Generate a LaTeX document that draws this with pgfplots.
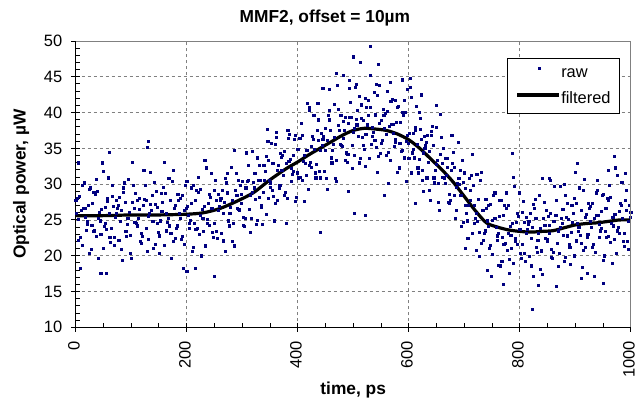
\documentclass[border=0pt]{standalone}
\usepackage{fontspec}
\setmainfont{Liberation Sans}
\usepackage{pgfplots}
\usepackage{pgfplotstable}
\pgfplotsset{compat=1.18}
\definecolor{rawblue}{RGB}{0,0,128}
\definecolor{gridgray}{RGB}{128,128,128}
\newcommand\chartfont{\fontsize{16.5}{19}\selectfont}
\newcommand\labelfont{\fontsize{17.4}{20}\selectfont\bfseries}

\pgfplotstableread{
x a b c e
0 27.7 25.9 28.0 25.1
5 22.2 28.3 22.6 18.2
10 26.3 21.5 29.8 26.6
15 30.2 26.7 25.4 23.6
20 24.4 24.8 27.1 29.3
25 20.3 29.5 20.9 24.3
30 27.4 23.4 28.9 23.5
35 28.6 30.7 22.7 29.0
40 25.2 19.6 26.1 24.9
45 23.0 26.5 33.0 21.0
50 31.8 24.1 24.6 26.8
55 23.7 28.0 27.6 30.9
60 25.9 22.6 21.9 23.8
65 28.3 29.8 26.9 22.6
70 21.5 25.4 27.7 26.0
75 26.7 27.1 22.2 28.2
80 24.8 20.9 26.3 19.4
85 29.5 28.9 30.2 27.5
90 23.4 22.7 24.4 25.3
95 30.7 26.1 20.3 22.9
100 19.7 33.1 27.5 29.8
105 26.6 24.7 28.7 24.6
110 24.2 27.7 25.3 26.5
115 28.1 22.0 23.1 21.8
120 22.7 27.0 31.9 27.9
125 29.9 27.8 23.8 20.6
130 25.5 22.3 26.0 31.7
135 27.2 26.4 28.4 24.8
140 21.0 30.3 21.6 27.2
145 29.0 24.5 26.8 23.3
150 22.8 20.4 24.9 28.7
155 26.2 27.5 29.6 21.5
160 33.1 28.7 23.5 25.9
165 24.7 25.3 30.8 24.2
170 27.7 23.1 19.7 30.4
175 22.0 31.9 26.6 22.4
180 27.0 23.8 24.2 28.6
185 27.8 26.0 28.1 25.2
190 22.3 28.4 22.7 18.3
195 26.4 21.6 29.9 26.7
200 30.4 26.9 25.6 23.8
205 24.6 25.0 27.3 29.5
210 20.6 29.8 21.2 24.6
215 27.7 23.7 29.2 23.8
220 28.9 31.0 23.0 29.3
225 25.6 20.0 26.5 25.3
230 23.4 26.9 33.4 21.4
235 32.3 24.6 25.1 27.3
240 24.3 28.6 28.2 31.5
245 26.6 23.3 22.6 24.5
250 29.1 30.6 27.7 23.4
255 22.4 26.3 28.6 26.9
260 27.7 28.1 23.2 29.2
265 26.0 22.1 27.5 20.6
270 30.8 30.2 31.5 28.8
275 24.9 24.2 25.9 26.8
280 32.4 27.8 22.0 24.6
285 21.4 34.8 29.2 31.5
290 28.5 26.6 30.6 26.5
295 26.3 29.8 27.4 28.6
300 30.4 24.3 25.4 24.1
305 25.2 29.5 34.4 30.4
310 32.6 30.5 26.5 23.3
315 28.4 25.2 28.9 34.6
320 30.3 29.5 31.5 27.9
325 24.4 33.7 25.0 30.6
330 32.7 28.2 30.5 27.0
335 26.8 24.4 28.9 32.7
340 30.5 31.8 33.9 25.8
345 37.7 33.3 28.1 30.5
350 29.6 30.2 35.7 29.1
355 32.9 28.3 24.9 35.6
360 27.4 37.3 32.0 27.8
365 32.7 29.5 29.9 34.3
370 33.8 32.0 34.1 31.2
375 28.5 34.6 28.9 24.5
380 32.9 28.1 36.4 33.2
385 37.0 33.5 32.2 30.4
390 31.4 31.8 34.1 36.3
395 27.6 36.8 28.2 31.6
400 34.9 30.9 36.4 31.0
405 36.4 38.5 30.5 36.8
410 33.2 27.6 34.1 32.9
415 31.3 34.8 41.3 29.3
420 40.3 32.6 33.1 35.3
425 32.4 36.7 36.3 39.6
430 34.9 31.6 30.9 32.8
435 37.5 39.0 36.1 31.8
440 30.9 34.8 37.1 35.4
445 36.3 36.7 31.8 37.8
450 34.7 30.8 36.2 29.3
455 39.6 39.0 40.3 37.6
460 33.7 33.0 34.7 35.6
465 41.2 36.6 30.8 33.4
470 30.4 43.8 38.2 40.5
475 37.5 35.6 39.6 35.5
480 35.3 38.8 36.4 37.6
485 39.4 33.3 34.4 33.1
490 34.2 38.5 43.4 39.4
495 41.5 39.4 35.4 32.2
500 37.3 34.1 37.8 43.5
505 39.1 38.3 40.3 36.7
510 33.0 42.3 33.6 39.2
515 41.1 36.6 38.9 35.4
520 34.9 32.5 37.0 40.8
525 38.3 39.6 41.7 33.6
530 45.2 40.8 35.6 38.0
535 36.7 37.3 42.8 36.2
540 39.7 35.1 31.7 42.4
545 33.9 43.8 38.5 34.3
550 38.9 35.7 36.1 40.5
555 39.6 37.8 39.9 37.0
560 34.1 40.2 34.5 30.1
565 38.1 33.3 41.6 38.4
570 41.9 38.4 37.1 35.3
575 35.9 36.3 38.6 40.8
580 31.7 40.9 32.3 35.7
585 38.6 34.6 40.1 34.7
590 39.6 41.7 33.7 40.0
595 36.0 30.4 36.9 35.7
600 33.6 37.1 43.6 31.6
605 42.1 34.4 34.9 37.1
610 33.7 38.0 37.6 40.9
615 35.6 32.3 31.6 33.5
620 37.7 39.2 36.3 32.0
625 30.5 34.4 36.7 35.0
630 35.4 35.8 30.9 36.9
635 33.1 29.2 34.6 27.7
640 37.4 36.8 38.1 35.4
645 30.9 30.2 31.9 32.8
650 37.9 33.3 27.5 30.1
655 26.4 39.8 34.2 36.5
660 32.9 31.0 35.0 30.9
665 30.1 33.6 31.2 32.4
670 33.6 27.5 28.6 27.3
675 27.7 32.0 36.9 32.9
680 34.5 32.4 28.4 25.2
685 29.6 26.4 30.1 35.8
690 30.8 30.0 32.0 28.4
695 24.1 33.4 24.7 30.3
700 31.6 27.1 29.4 25.9
705 24.9 22.5 27.0 30.8
710 27.8 29.1 31.2 23.1
715 34.2 29.8 24.6 27.0
720 25.3 25.9 31.4 24.8
725 27.9 23.3 19.9 30.6
730 21.8 31.7 26.4 22.2
735 26.3 23.1 23.5 27.9
740 26.7 24.9 27.0 24.1
745 21.1 27.2 21.5 17.1
750 25.0 20.2 28.5 25.3
755 28.8 25.3 24.0 22.2
760 22.8 23.2 25.5 27.7
765 18.6 27.8 19.2 22.6
770 25.6 21.6 27.1 21.7
775 26.7 28.8 20.8 27.1
780 23.2 17.6 24.1 22.9
785 21.0 24.5 31.0 19.0
790 29.7 22.0 22.5 24.7
795 21.6 25.9 25.5 28.8
800 23.7 20.4 19.7 21.6
805 26.1 27.6 24.7 20.4
810 19.2 23.1 25.4 23.7
815 24.4 24.8 19.9 25.9
820 22.5 18.6 24.0 17.1
825 27.2 26.6 27.9 25.2
830 21.2 20.5 22.2 23.1
835 28.5 23.9 18.1 20.7
840 17.4 30.8 25.2 27.5
845 24.3 22.4 26.4 22.3
850 22.0 25.5 23.1 24.3
855 25.9 19.8 20.9 19.6
860 20.5 24.8 29.7 25.7
865 27.8 25.7 21.7 18.5
870 23.5 20.3 24.0 29.7
875 25.3 24.5 26.5 22.9
880 19.2 28.5 19.8 25.4
885 27.3 22.8 25.1 21.6
890 21.2 18.8 23.3 27.1
895 24.7 26.0 28.1 20.0
900 31.7 27.3 22.1 24.5
905 23.4 24.0 29.5 22.9
910 26.4 21.8 18.4 29.1
915 20.8 30.7 25.4 21.2
920 25.8 22.6 23.0 27.4
925 26.6 24.8 26.9 24.0
930 21.2 27.3 21.6 17.2
935 25.3 20.5 28.8 25.6
940 29.2 25.7 24.4 22.6
945 23.5 23.9 26.2 28.4
950 19.4 28.6 20.0 23.4
955 26.6 22.6 28.1 22.7
960 27.8 29.9 21.9 28.2
965 24.5 18.9 25.4 24.2
970 22.3 25.8 32.3 20.3
975 31.2 23.5 24.0 26.2
980 23.1 27.4 27.0 30.3
985 25.3 22.0 21.3 23.2
990 27.7 29.2 26.3 22.0
995 20.9 24.8 27.1 25.4
1000 26.1 26.5 21.6 27.6
}\rawdata

\pgfplotstableread{
x y
0 25.6
50 25.6
100 25.7
150 25.7
200 25.8
230 26.0
260 26.6
290 27.6
320 28.8
350 30.6
380 32.2
400 33.1
420 34.1
440 35.0
460 35.9
480 36.8
500 37.5
520 37.8
540 37.7
560 37.5
580 37.0
600 36.2
620 35.0
640 33.5
660 32.0
680 30.3
700 28.3
720 26.3
740 24.6
760 24.0
780 23.6
800 23.4
820 23.3
840 23.4
860 23.5
880 23.9
900 24.3
920 24.5
940 24.6
960 24.8
980 25.0
1000 25.0
}\filtdata

\pgfplotsset{
  rawstyle/.style={only marks, mark=square*, mark size=1.05bp, rawblue,
    mark options={draw=none, fill=rawblue}, restrict x to domain=0:1000},
}

\begin{document}
\begin{tikzpicture}
\begin{axis}[
  name=ax,
  width=555bp, height=286.3bp, scale only axis,
  xmin=0, xmax=1000, ymin=10, ymax=50,
  xtick={0,200,...,1000}, ytick={10,15,...,50},
  minor x tick num=3, minor y tick num=4,
  axis lines=left, axis line style={-, black, line width=1.1bp},
  tick align=inside, major tick length=9bp, minor tick length=4bp,
  tick style={black, line width=0.9bp},
  major x tick style={yshift=-4.5bp},
  major y tick style={xshift=-4.5bp},
  grid=major,
  major grid style={gridgray, line width=0.7bp, dash pattern=on 3bp off 3bp},
  /pgf/number format/assume math mode=true,
  /pgf/number format/1000 sep={},
  scaled ticks=false,
  tick label style={font=\chartfont},
  xticklabel style={rotate=90, anchor=east, inner sep=0.8bp, xshift=-12.7bp, yshift=1.7bp},
  yticklabel style={xshift=-10bp},
  every axis title shift=0pt,
  title={MMF2, offset = 10µm},
  title style={font=\labelfont, at={([yshift=18.5bp]axis description cs:0.449,1)}, anchor=base, inner sep=0pt},
  xlabel={time, ps},
  xlabel style={font=\labelfont, at={([yshift=-67bp]axis description cs:0.5,0)}, anchor=base, inner sep=0pt},
  ylabel={Optical power, µW},
  ylabel style={font=\labelfont, at={([xshift=-50bp]axis description cs:0,0.5)}, anchor=base, inner sep=0pt},
  legend style={at={(0.9807,0.9396)}, anchor=north east, draw=black, line width=0.8bp, fill=white,
    font=\chartfont, inner xsep=8bp, inner ysep=5.5bp, row sep=8.8bp,
    nodes={inner sep=1bp, text height=12bp, text depth=3.5bp},
    /tikz/every even column/.append style={column sep=1.7bp}},
  legend cell align=left,
]
\addplot[rawstyle,
  legend image code/.code={\fill[rawblue] (18.05bp,3.3bp) rectangle (20.05bp,5.3bp); \path (-3.3bp,0bp) (38bp,0bp);}]
  table[x=x, y=a] {\rawdata};
\addlegendentry{raw}
\addplot[forget plot, rawstyle] table[x expr=\thisrow{x}+1.25, y=b] {\rawdata};
\addplot[forget plot, rawstyle] table[x expr=\thisrow{x}+2.5, y=c] {\rawdata};
\addplot[forget plot, rawstyle] table[x expr=\thisrow{x}+3.75, y=e] {\rawdata};
\addplot[forget plot, rawstyle]
  coordinates {
(530,49.3) (500,47.8) (512,47.0) (545,46.8) (482,45.2) (445,43.4) (457,43.3) (470,45.5) (588,44.6) (602,44.8)
(622,42.5) (650,41.0) (436,41.3) (421,40.8) (598,43.3) (382,37.5) (362,36.5) (346,36.0) (131,36.0) (129,35.1)
(60,34.5) (5,33.0) (521,42.0) (561,43.0) (576,41.7) (492,44.5) (506,44.0) (541,44.0) (566,44.3) (619,40.0)
(250,17.2) (55,17.6) (45,17.5) (200,17.8) (215,18.3) (822,12.5) (833,15.9) (771,16.0) (866,15.8) (911,16.8)
(951,16.2) (921,17.5) (441,23.3) (501,26.0) (521,25.6) (611,27.3) (626,29.0) (556,28.5) (491,29.0) (701,21.0)
(721,20.8) (741,18.0) (761,18.7) (781,19.5) (880,30.0) (855,30.5) (940,30.5) (990,31.5) (960,32.0) (853,30.8)
(903,32.9) (970,33.9) (787,34.3)
  };
\addplot[black, line width=3.2bp, smooth,
  legend image code/.code={\draw[black, line width=3.2bp] (-3.3bp,4.25bp) -- (38bp,4.25bp);}]
  table[x=x, y=y] {\filtdata};
\addlegendentry{filtered}
\end{axis}
\draw[gridgray, line width=0.8bp] (ax.north west) -- (ax.north east) -- (ax.south east);
\pgfresetboundingbox
\useasboundingbox ([xshift=-75.7bp,yshift=-73.7bp]ax.south west) rectangle ([xshift=5.3bp,yshift=41bp]ax.north east);
\end{tikzpicture}
\end{document}
